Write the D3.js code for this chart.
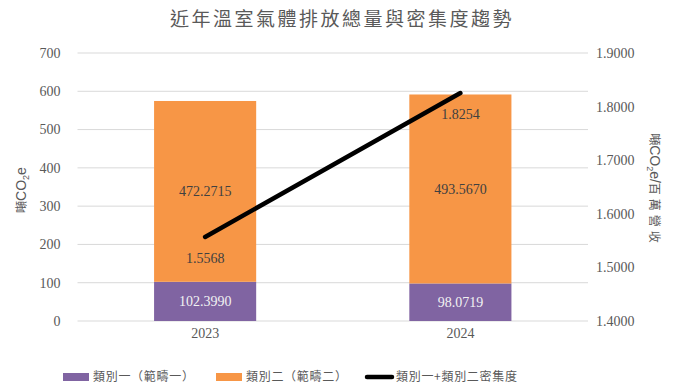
<!DOCTYPE html>
<html>
<head>
<meta charset="utf-8">
<script src="https://cdn.jsdelivr.net/npm/d3@7"></script>
<style>
body { margin: 0; background: #fff; }
text { font-family: "Liberation Serif", "Times New Roman", serif; }
.cjk { font-family: "Noto Sans CJK TC", sans-serif; }
</style>
</head>
<body>
<script>
const svgWidth = 677;
const svgHeight = 391;

// data
const years = ["2023", "2024"];
const scope1 = [102.3990, 98.0719];
const scope2 = [472.2715, 493.5670];
const intensity = [1.5568, 1.8254];
const leftTicks = [0, 100, 200, 300, 400, 500, 600, 700];
const rightTicks = [1.4, 1.5, 1.6, 1.7, 1.8, 1.9];

const colors = { s1: "#8064a2", s2: "#f79646", line: "#000000" };

const margin = {top: 53, right: 89, bottom: 70, left: 77.5};
const w = svgWidth - margin.left - margin.right;
const h = svgHeight - margin.top - margin.bottom;

const svg = d3.select("body").append("svg")
    .attr("width", svgWidth)
    .attr("height", svgHeight);

const g = svg.append("g")
    .attr("transform", `translate(${margin.left},${margin.top})`);

const xScale = d3.scaleBand().domain(years).range([0, w]).paddingInner(0.6).paddingOuter(0.3);
const yLeft = d3.scaleLinear().domain([0, 700]).range([h, 0]);
const yRight = d3.scaleLinear().domain([1.4, 1.9]).range([h, 0]);

// gridlines
g.selectAll(".grid")
    .data(leftTicks)
    .enter().append("line")
    .attr("x1", 0)
    .attr("x2", w)
    .attr("y1", d => yLeft(d))
    .attr("y2", d => yLeft(d))
    .attr("stroke", "#d9d9d9")
    .attr("stroke-width", 1);

// left tick labels
g.selectAll(".lt")
    .data(leftTicks)
    .enter().append("text")
    .attr("x", -17)
    .attr("y", d => yLeft(d))
    .attr("dy", "0.35em")
    .attr("text-anchor", "end")
    .attr("font-size", 14)
    .attr("fill", "#595959")
    .text(d => d);

// right tick labels
g.selectAll(".rt")
    .data(rightTicks)
    .enter().append("text")
    .attr("x", w + 8)
    .attr("y", d => yRight(d))
    .attr("dy", "0.35em")
    .attr("text-anchor", "start")
    .attr("font-size", 14)
    .attr("fill", "#595959")
    .text(d => d.toFixed(4));

// stacked bars
const stackData = years.map((y, i) => ({year: y, s1: scope1[i], s2: scope2[i]}));
const series = d3.stack().keys(["s1", "s2"])(stackData);

g.selectAll(".series")
    .data(series)
    .enter().append("g")
    .attr("fill", d => colors[d.key])
    .selectAll("rect")
    .data(d => d)
    .enter().append("rect")
    .attr("x", d => xScale(d.data.year))
    .attr("width", xScale.bandwidth())
    .attr("y", d => yLeft(d[1]))
    .attr("height", d => yLeft(d[0]) - yLeft(d[1]));

// bar labels
series.forEach(s => {
    g.selectAll(".lbl-" + s.key)
        .data(s)
        .enter().append("text")
        .attr("x", d => xScale(d.data.year) + xScale.bandwidth() / 2)
        .attr("y", d => yLeft((d[0] + d[1]) / 2))
        .attr("dy", "0.35em")
        .attr("text-anchor", "middle")
        .attr("font-size", 14)
        .attr("fill", s.key === "s1" ? "#f2f2f2" : "#404040")
        .text(d => d.data[s.key].toFixed(4));
});

// intensity line
const line = d3.line()
    .x((d, i) => xScale(years[i]) + xScale.bandwidth() / 2)
    .y(d => yRight(d));

g.append("path")
    .datum(intensity)
    .attr("d", line)
    .attr("fill", "none")
    .attr("stroke", colors.line)
    .attr("stroke-width", 4.5)
    .attr("stroke-linecap", "round");

g.selectAll(".ilbl")
    .data(intensity)
    .enter().append("text")
    .attr("x", (d, i) => xScale(years[i]) + xScale.bandwidth() / 2)
    .attr("y", d => yRight(d) + 21)
    .attr("dy", "0.35em")
    .attr("text-anchor", "middle")
    .attr("font-size", 14)
    .attr("fill", "#404040")
    .text(d => d.toFixed(4));

// x labels
g.selectAll(".xl")
    .data(years)
    .enter().append("text")
    .attr("x", d => xScale(d) + xScale.bandwidth() / 2)
    .attr("y", h + 12)
    .attr("dy", "0.35em")
    .attr("text-anchor", "middle")
    .attr("font-size", 14)
    .attr("fill", "#595959")
    .text(d => d);

// title
svg.append("text")
    .attr("class", "cjk")
    .attr("x", 342)
    .attr("y", 19)
    .attr("dy", "0.35em")
    .attr("text-anchor", "middle")
    .attr("font-size", 19)
    .attr("letter-spacing", 2.5)
    .attr("fill", "#595959")
    .text("近年溫室氣體排放總量與密集度趨勢");

// axis titles
const lt = svg.append("text")
    .attr("transform", "translate(21,190) rotate(-90)")
    .attr("text-anchor", "middle")
    .attr("dy", "0.35em")
    .attr("font-size", 14)
    .attr("fill", "#595959");
lt.append("tspan").attr("class", "cjk").attr("font-size", 12).text("噸");
lt.append("tspan").style("font-family", "Liberation Sans, sans-serif").text("CO");
lt.append("tspan").style("font-family", "Liberation Sans, sans-serif").attr("font-size", 9).attr("dy", 3).text("2");
lt.append("tspan").style("font-family", "Liberation Sans, sans-serif").attr("dy", -3).text("e");

const rt = svg.append("text")
    .attr("transform", "translate(655,190) rotate(90)")
    .attr("text-anchor", "middle")
    .attr("dy", "0.35em")
    .attr("font-size", 14)
    .attr("fill", "#595959");
rt.append("tspan").attr("class", "cjk").attr("font-size", 12).text("噸");
rt.append("tspan").style("font-family", "Liberation Sans, sans-serif").text("CO");
rt.append("tspan").style("font-family", "Liberation Sans, sans-serif").attr("font-size", 9).attr("dy", 3).text("2");
rt.append("tspan").style("font-family", "Liberation Sans, sans-serif").attr("dy", -3).text("e/");
rt.append("tspan").attr("class", "cjk").attr("font-size", 12).attr("letter-spacing", 4).text("百萬營收");

// legend
const legendItems = [
    {label: "類別一（範疇一）", type: "rect", color: colors.s1, x: 63},
    {label: "類別二（範疇二）", type: "rect", color: colors.s2, x: 216},
    {label: "類別一+類別二密集度", type: "line", color: colors.line, x: 366}
];
const legend = svg.append("g").attr("transform", "translate(0,377)");
legendItems.forEach(it => {
    if (it.type === "rect") {
        legend.append("rect").attr("x", it.x).attr("y", -4).attr("width", 26).attr("height", 8).attr("fill", it.color);
    } else {
        legend.append("line").attr("x1", it.x + 1).attr("x2", it.x + 26).attr("y1", 0).attr("y2", 0)
            .attr("stroke", it.color).attr("stroke-width", 4.5).attr("stroke-linecap", "round");
    }
    legend.append("text")
        .attr("class", "cjk")
        .attr("x", it.x + 30)
        .attr("y", 0)
        .attr("dy", "0.35em")
        .attr("font-size", 12)
        .attr("letter-spacing", 0.7)
        .attr("fill", "#595959")
        .text(it.label);
});
</script>
</body>
</html>
